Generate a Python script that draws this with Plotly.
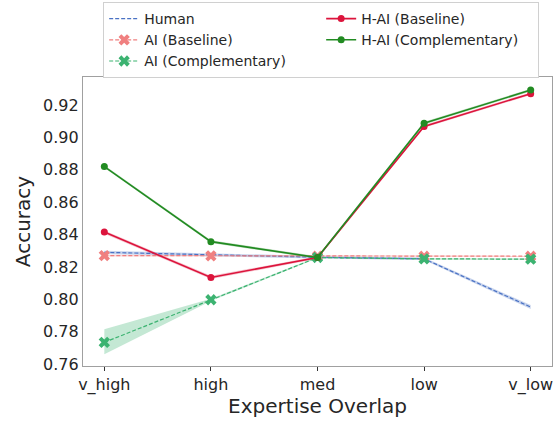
import plotly.graph_objects as go

categories = ["v_high", "high", "med", "low", "v_low"]

human = [0.829, 0.8275, 0.826, 0.825, 0.7952]
human_lo = [0.8280, 0.8265, 0.8252, 0.8242, 0.7940]
human_hi = [0.8300, 0.8285, 0.8268, 0.8258, 0.7964]

ai_base = [0.8270, 0.8268, 0.8266, 0.8266, 0.8266]
ai_base_lo = [0.8265, 0.8263, 0.8261, 0.8261, 0.8261]
ai_base_hi = [0.8275, 0.8273, 0.8271, 0.8271, 0.8271]

ai_comp = [0.7734, 0.7997, 0.8258, 0.8250, 0.8248]
ai_comp_lo = [0.7660, 0.7990, 0.8253, 0.8245, 0.8243]
ai_comp_hi = [0.7815, 0.8004, 0.8263, 0.8255, 0.8253]

hai_base = [0.8415, 0.8135, 0.8258, 0.9068, 0.9270]
hai_base_lo = [0.8405, 0.8125, 0.8250, 0.9060, 0.9262]
hai_base_hi = [0.8425, 0.8145, 0.8266, 0.9076, 0.9278]

hai_comp = [0.8820, 0.8356, 0.8258, 0.9088, 0.9292]
hai_comp_lo = [0.8812, 0.8348, 0.8250, 0.9080, 0.9284]
hai_comp_hi = [0.8828, 0.8364, 0.8266, 0.9096, 0.9300]

xs = list(range(len(categories)))

series = [
    dict(name="Human", y=human, lo=human_lo, hi=human_hi, color="#4a72c4",
         fill="rgba(74,114,196,0.3)", dash="4px,2px", symbol=None, rank=1, width=1.2),
    dict(name="AI (Baseline)", y=ai_base, lo=ai_base_lo, hi=ai_base_hi, color="#f08080",
         fill="rgba(240,128,128,0.3)", dash="4px,2px", symbol="x", rank=3, width=1.2),
    dict(name="AI (Complementary)", y=ai_comp, lo=ai_comp_lo, hi=ai_comp_hi, color="#3cb371",
         fill="rgba(60,179,113,0.3)", dash="4px,2px", symbol="x", rank=5, width=1.2),
    dict(name="H-AI (Baseline)", y=hai_base, lo=hai_base_lo, hi=hai_base_hi, color="#dc143c",
         fill="rgba(220,20,60,0.25)", dash="solid", symbol="circle", rank=2, width=1.6),
    dict(name="H-AI (Complementary)", y=hai_comp, lo=hai_comp_lo, hi=hai_comp_hi, color="#228b22",
         fill="rgba(34,139,34,0.25)", dash="solid", symbol="circle", rank=4, width=1.6),
]

fig = go.Figure()
for s in series:
    fig.add_trace(go.Scatter(
        x=xs + xs[::-1], y=s["hi"] + s["lo"][::-1], fill="toself",
        fillcolor=s["fill"], line=dict(width=0), mode="lines",
        showlegend=False, hoverinfo="skip"))
for s in series:
    if s["symbol"] is None:
        mode = "lines"
        marker = None
    else:
        mode = "lines+markers"
        if s["symbol"] == "x":
            marker = dict(symbol="x", size=10, color=s["color"], line=dict(width=0))
        else:
            marker = dict(symbol="circle", size=7, color=s["color"], line=dict(width=0))
    fig.add_trace(go.Scatter(
        x=xs, y=s["y"], mode=mode, name=s["name"], legendrank=s["rank"],
        line=dict(color=s["color"], dash=s["dash"], width=s["width"]),
        marker=marker))

font_color = "#262626"
fig.update_layout(
    width=557, height=421,
    margin=dict(l=83, r=5, t=77, b=55, autoexpand=False),
    paper_bgcolor="white", plot_bgcolor="white",
    font=dict(family="DejaVu Sans", color=font_color, size=16),
    xaxis=dict(
        range=[-0.2, 4.2], tickvals=xs, ticktext=categories,
        showgrid=False, zeroline=False, showline=True, mirror=True,
        linecolor="#a0a0a0", linewidth=1.2,
        ticks="outside", ticklen=4, tickcolor="#333333", tickwidth=1,
        tickfont=dict(size=16),
        title=dict(text="Expertise Overlap", font=dict(size=20), standoff=1),
    ),
    yaxis=dict(
        range=[0.7588, 0.9373], tickvals=[0.76, 0.78, 0.80, 0.82, 0.84, 0.86, 0.88, 0.90, 0.92],
        tickformat=".2f", showgrid=False, zeroline=False, showline=True, mirror=True,
        linecolor="#a0a0a0", linewidth=1.2, ticks="", tickfont=dict(size=16),
        title=dict(text="Accuracy", font=dict(size=20), standoff=7),
    ),
    legend=dict(
        orientation="h", x=0.043, xanchor="left", y=1.2595, yanchor="top",
        entrywidth=172, font=dict(size=14, color=font_color),
        bordercolor="#d0d0d0", borderwidth=1, bgcolor="white",
        tracegroupgap=0,
    ),
)

fig.write_html(
    "out.html",
    config={"displayModeBar": False},
    post_script="document.body.style.margin='0px'; document.body.style.overflow='hidden';",
)
